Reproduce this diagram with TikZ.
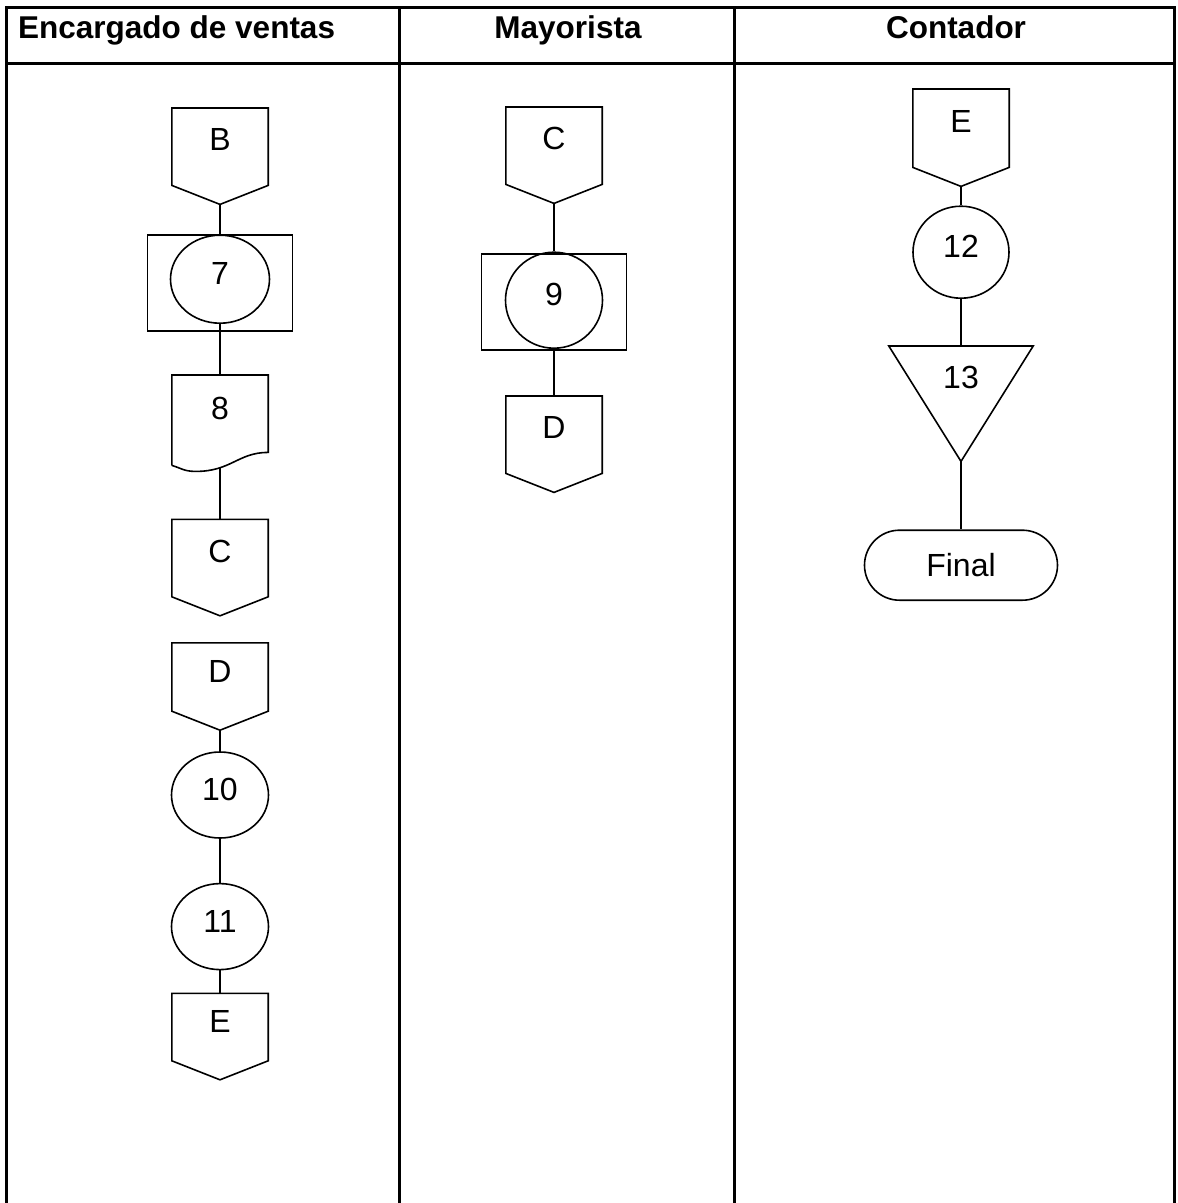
\documentclass[tikz,border=0pt]{standalone}
\usepackage{fontspec}
\setmainfont{Liberation Sans}
\usetikzlibrary{positioning,shapes.geometric}

\begin{document}
\begin{tikzpicture}[x=1pt,y=-1pt,
    every node/.style={font=\fontsize{32}{38}\selectfont},
    flowline/.style={line width=1.6pt},
    lanehead/.style={font=\fontsize{31.5}{37}\selectfont\bfseries, inner sep=0pt},
    offpage/.style={minimum width=96pt, minimum height=96pt, inner sep=0pt,
      text height=23pt, text depth=34pt,
      append after command={\pgfextra{\draw[flowline]
        (\tikzlastnode.north west) -- (\tikzlastnode.north east)
        -- ([yshift=19pt]\tikzlastnode.south east) -- (\tikzlastnode.south)
        -- ([yshift=19pt]\tikzlastnode.south west) -- cycle;}}},
    docu/.style={minimum width=96pt, minimum height=93pt, inner sep=0pt,
      text height=23pt, text depth=27pt,
      append after command={\pgfextra{\draw[flowline]
        ([yshift=3pt]\tikzlastnode.south west) -- (\tikzlastnode.north west)
        -- (\tikzlastnode.north east) -- ([yshift=16pt]\tikzlastnode.south east)
        .. controls +(-30pt,0pt) and +(35pt,0pt) .. ([xshift=-24pt,yshift=-3pt]\tikzlastnode.south)
        .. controls +(-12pt,0pt) and +(10pt,-3pt) .. ([yshift=3pt]\tikzlastnode.south west);}}},
    opbox/.style={draw, flowline, minimum width=145pt, minimum height=96pt, inner sep=0pt},
    opcirc/.style={ellipse, draw, flowline, minimum width=97pt, minimum height=86pt,
      inner sep=0pt, text height=23pt, text depth=12pt},
    store/.style={minimum width=144pt, minimum height=115pt, inner sep=0pt,
      text height=23pt, text depth=53pt,
      append after command={\pgfextra{\draw[flowline]
        (\tikzlastnode.north west) -- (\tikzlastnode.north east)
        -- (\tikzlastnode.south) -- cycle;}}},
    term/.style={draw, flowline, rounded corners=35pt, minimum width=193pt,
      minimum height=70pt, inner sep=0pt}]
  \useasboundingbox (0,0) rectangle (1178,1203);

  % table
  \draw[line width=3pt] (6,1203) -- (6,7) -- (1174,7) -- (1174,1203)
    (6,63) -- (1174,63) (399,7) -- (399,1203) (734,7) -- (734,1203);
  \node[lanehead, anchor=base west] (lane1) at (18,38) {Encargado de ventas};
  \node[lanehead, anchor=base] (lane2) at (568,38) {Mayorista};
  \node[lanehead, anchor=base] (lane3) at (956,38) {Contador};

  % Encargado de ventas
  \node[offpage, anchor=north] (b1) at (220,108) {B};
  \node[opbox, below=30pt of b1] (box7) {};
  \node[opcirc, minimum width=99pt, minimum height=88pt, anchor=north] (c7) at (box7.north) {7};
  \node[docu, below=51pt of c7] (d8) {8};
  \node[offpage, below=51pt of d8] (c1) {C};
  \node[offpage, minimum height=87pt, text depth=31pt, below=27pt of c1] (d1) {D};
  \node[opcirc, below=21pt of d1] (c10) {10};
  \node[opcirc, below=44pt of c10] (c11) {11};
  \node[offpage, minimum height=86pt, text depth=31pt, below=23pt of c11] (e1) {E};

  % Mayorista
  \node[offpage, anchor=north] (c2) at (554,107) {C};
  \node[opcirc, minimum height=96pt, below=48pt of c2] (c9) {9};
  \node[opbox] (box9) at ([yshift=-2pt]c9) {};
  \node[offpage, below=47pt of c9] (d2) {D};

  % Contador
  \node[offpage, minimum height=97pt, anchor=north] (e3) at (961,89) {E};
  \node[opcirc, minimum width=96pt, minimum height=92pt, below=19pt of e3] (c12) {12};
  \node[store, below=47pt of c12] (t13) {13};
  \node[term, below=68pt of t13] (fin) {Final};

  \draw[flowline] (b1.south) -- (c7.north) (c7.south) -- (d8.north)
    (d8.south) -- (c1.north) (d1.south) -- (c10.north)
    (c10.south) -- (c11.north) (c11.south) -- (e1.north)
    (c2.south) -- (c9.north) (c9.south) -- (d2.north)
    (e3.south) -- (c12.north) (c12.south) -- (t13.north) (t13.south) -- (fin.north);
\end{tikzpicture}
\end{document}
